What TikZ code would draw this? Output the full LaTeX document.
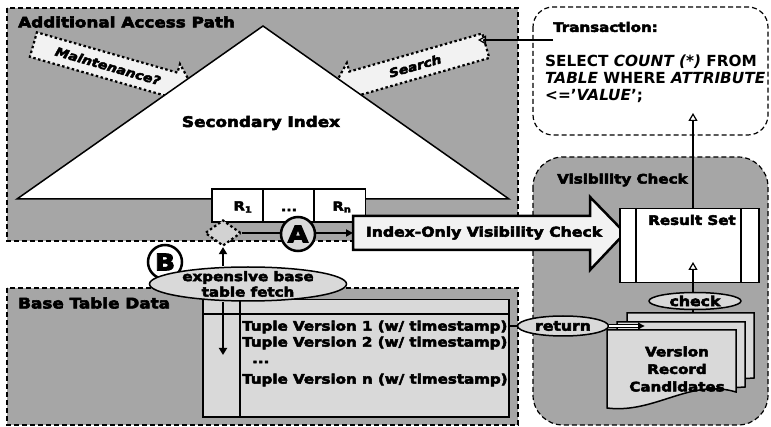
\documentclass[tikz,border=0pt]{standalone}
\usepackage{fontspec}
\setmainfont{DejaVu Sans}
\newfontfamily\hv[FakeBold=4, FakeStretch=1.16]{DejaVu Sans Bold}
\newfontfamily\hvit[FakeBold=4, FakeStretch=1.16]{DejaVu Sans Bold Oblique}
\usetikzlibrary{arrows.meta,shapes.geometric,shapes.arrows}
\definecolor{midgray}{HTML}{A6A6A6}
\definecolor{ltgray}{HTML}{D9D9D9}
\definecolor{vltgray}{HTML}{F2F2F2}
\tikzset{
 region/.style={draw=black, line width=1.2pt, dash pattern=on 5pt off 3pt, fill=midgray},
 title/.style={anchor=west, inner sep=0pt, font=\hv\fontsize{14.5}{16}\selectfont},
 lbl/.style={inner sep=0pt, font=\hv\fontsize{13}{15}\selectfont},
 oval/.style={ellipse, draw, line width=1.5pt, fill=ltgray, inner sep=0pt},
 conn/.style={line width=2.5pt},
 tipc/.style={-{Triangle[length=7pt,width=8pt]}},
 openhead/.style={-{Triangle[open,length=8pt,width=9pt,line width=1.2pt]}},
 blockarrow/.style={single arrow, draw, fill=vltgray, line width=2.2pt,
   dash pattern=on 2.5pt off 2.5pt, single arrow head extend=9pt, inner ysep=7pt,
   font=\hvit\fontsize{12}{14}\selectfont},
 cell/.style={draw, line width=1.5pt, fill=white, minimum width=51pt, minimum height=33pt, inner sep=0pt},
 sheet/.style={draw, line width=1.5pt, fill=ltgray},
 lettercircle/.style={circle, draw, line width=2.5pt, minimum size=34pt, inner sep=0pt,
   font=\hv\fontsize{23}{23}\selectfont}
}
\begin{document}
\begin{tikzpicture}[x=1pt,y=-1pt]
\useasboundingbox (0,0) rectangle (771,427);
% regions
\draw[region] (7,8) rectangle (518,241);
\draw[region] (7,288) rectangle (518,425);
\draw[region, rounded corners=30pt] (533,157) rectangle (768,425);
\draw[line width=1.2pt, dash pattern=on 5pt off 3pt, fill=white, rounded corners=20pt] (533,7) rectangle (768,135);
% block arrows
\node[blockarrow, rotate=-16, minimum height=168pt] (maint) at (108,66) {Maintenance?};
\node[blockarrow, shape border rotate=180, rotate=16, minimum height=160pt] (search) at (415,66) {Search};
% triangle
\draw[line width=1.5pt, fill=white] (17,199) -- (263,26) -- (509,199) -- cycle;
\node[lbl, font=\hv\fontsize{14.5}{16}\selectfont] (sec) at (261,123) {Secondary Index};
\node[title] (t1) at (18,22) {Additional Access Path};
\node[title] (t2) at (18,303) {Base Table Data};
\node[title, font=\hv\fontsize{13}{15}\selectfont] (t3) at (557,180) {Visibility Check};
% record cells
\node[cell] (r1) at (237.5,205.5) {};
\node[cell] (r2) at (288.5,205.5) {};
\node[cell] (rn) at (340,205.5) {};
\node[lbl, font=\hv\fontsize{12.5}{14}\selectfont] at (243,207) {R\textsubscript{1}};
\node[lbl, font=\hv\fontsize{12}{14}\selectfont] at (289,210) {...};
\node[lbl, font=\hv\fontsize{12.5}{14}\selectfont] at (342,207) {R\textsubscript{n}};
% transaction text
\node[anchor=west, inner sep=0pt, font=\hv\fontsize{13}{15}\selectfont] (txtitle) at (553,27) {Transaction:};
\node[anchor=north west, inner sep=0pt, align=left, font=\bfseries\fontsize{15.3}{17}\selectfont] (sql) at (545,55)
 {SELECT \textit{COUNT (*)} FROM\\ \textit{TABLE} WHERE \textit{ATTRIBUTE}\\ <='\textit{VALUE}';};
\coordinate (txout) at (553,40);
\coordinate (txin) at (693,113);
\draw[conn, openhead] (txout) -- (478,40) coordinate (searchin);
% base table
\node[draw, line width=1.5pt, fill=ltgray, minimum width=306pt, minimum height=117pt, anchor=north west, inner sep=0pt] (tbl) at (202,299) {};
\draw[line width=1.2pt] (202,314) -- (508,314);
\draw[line width=1.2pt] (240,299) -- (240,416);
\node[lbl, anchor=west] (tv1) at (242,327) {Tuple Version 1 (w/ timestamp)};
\node[lbl, anchor=west] (tv2) at (242,343) {Tuple Version 2 (w/ timestamp)};
\node[lbl, anchor=west] (tvd) at (252,362) {...};
\node[lbl, anchor=west] (tvn) at (242,380) {Tuple Version n (w/ timestamp)};
% fetch path
\node[lettercircle, fill=white] (B) at (165,262) {B};
\node[oval, minimum width=197pt, minimum height=34pt] (fetch) at (248,284) {};
\node[lbl, align=center, font=\hv\fontsize{13}{15.5}\selectfont] at (fetch.center) {expensive base\\table fetch};
\node[diamond, draw, line width=2.2pt, dash pattern=on 2.5pt off 2.5pt, fill=gray!35, minimum width=36pt, minimum height=26pt, inner sep=0pt] (diam) at (223,233) {};
\draw[conn, tipc] (fetch.north -| diam.south) -- (diam.south);
\coordinate (tblarrow) at (223,355);
\draw[conn, tipc] (fetch.south -| diam.south) -- (tblarrow);
\coordinate (idxtail) at (353,233);
\draw[conn, -{Triangle[length=7pt,width=7pt]}] (diam.east) -- (idxtail);
\node[lettercircle, fill=ltgray] (A) at (298,234) {A};
% index-only arrow
\draw[line width=2.5pt, fill=vltgray, line join=miter] (353,216) -- (590,216) -- (590,197) -- (625,233) -- (590,270) -- (590,250) -- (353,250) -- cycle;
\node[lbl, font=\hv\fontsize{13.5}{15}\selectfont] (idx) at (484,233) {Index-Only Visibility Check};
% result set
\node[draw, line width=1.5pt, fill=white, minimum width=139pt, minimum height=74pt, anchor=north west, inner sep=0pt] (rs) at (619,208) {};
\draw[line width=1.2pt] (636,208) -- (636,282);
\draw[line width=1.2pt] (741,208) -- (741,282);
\node[lbl] at (692,220) {Result Set};
\draw[conn, openhead] (rs.north -| txin) -- (txin);
% stack of candidates
\draw[sheet] (627,313) -- (754,313) -- (754,378) -- (627,386) -- cycle;
\draw[sheet] (617,322) -- (745,322) -- (745,387) -- (617,395) -- cycle;
\draw[sheet] (607,330) -- (736,330) -- (736,392) .. controls (690,378) and (655,414) .. (607,408) -- cycle;
\node[lbl, align=center, font=\hv\fontsize{13}{17.5}\selectfont] (vrc) at (677,369) {Version\\Record\\Candidates};
\coordinate (stacktop) at (693,313);
\node[oval, minimum width=92pt, minimum height=17pt] (chk) at (695,301) {};
\node[lbl, font=\hv\fontsize{13.5}{15}\selectfont] at (chk.center) {check};
\draw[conn] (stacktop) -- (chk.south -| stacktop);
\coordinate (rsin) at (693,262);
\draw[conn, openhead] (chk.north -| rsin) -- (rsin);
% return
\node[oval, minimum width=91pt, minimum height=20pt] (ret) at (563,326) {};
\node[lbl, font=\hv\fontsize{13.5}{15}\selectfont] at (ret.center) {return};
\draw[conn] (tbl.east |- ret.west) -- (ret.west);
\coordinate (stackin) at (645,326);
\draw[line width=1.2pt, double, double distance=2.5pt, -{Latex[length=7pt,width=8pt]}] (ret.east) -- (stackin);
\end{tikzpicture}
\end{document}
